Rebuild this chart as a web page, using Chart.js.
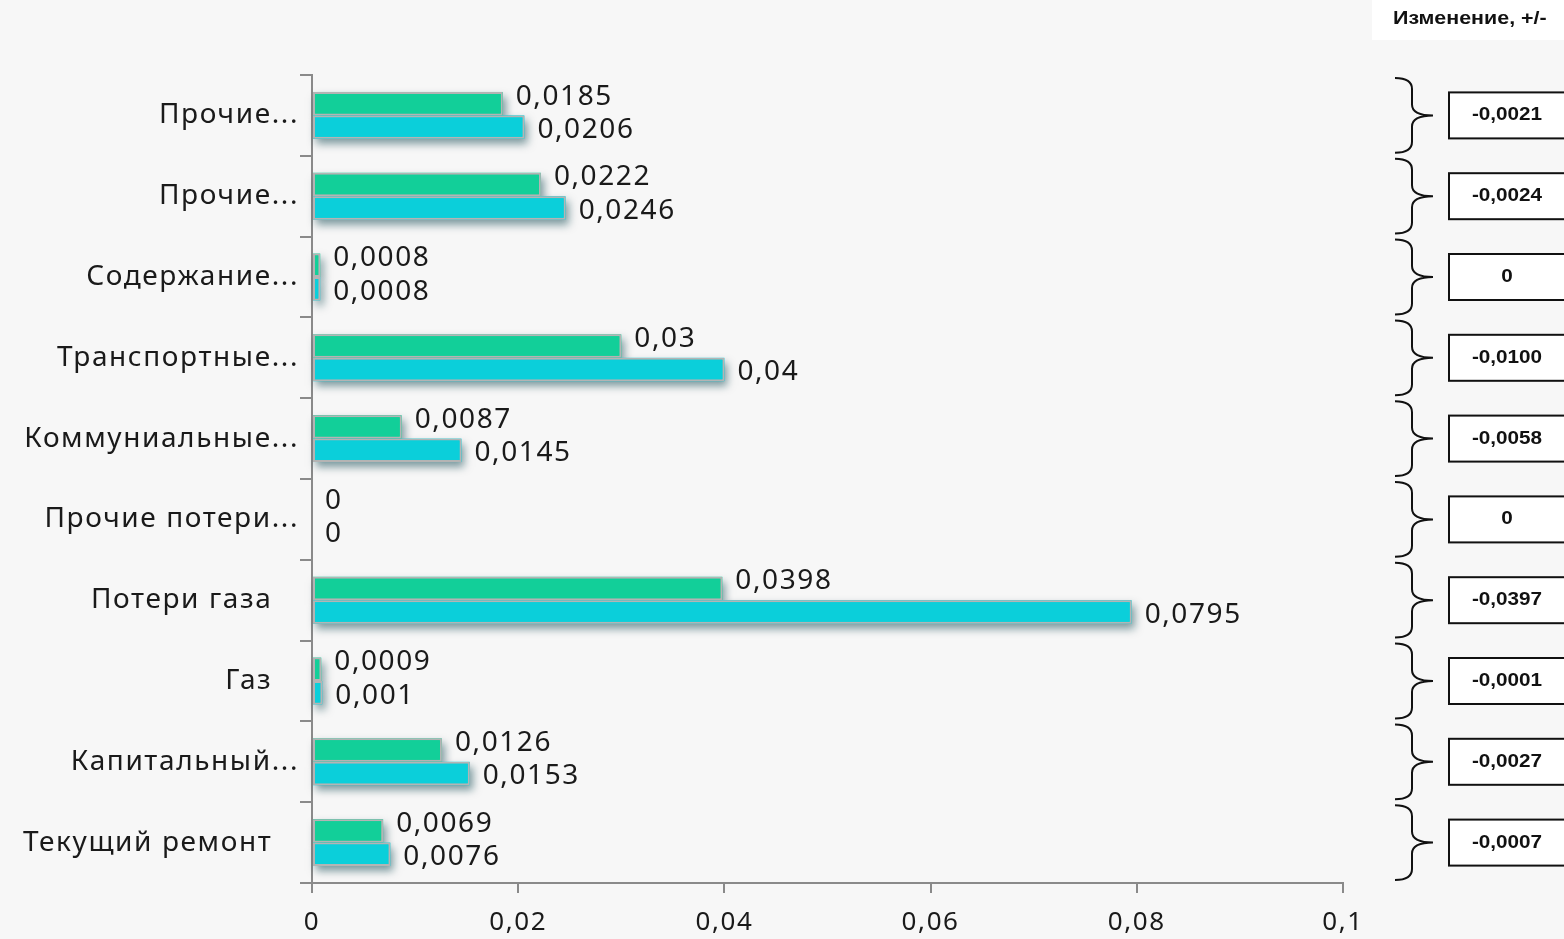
<!DOCTYPE html>
<html>
<head>
<meta charset="utf-8">
<script src="https://cdn.jsdelivr.net/npm/chart.js@4"></script>
<style>
  html, body { margin: 0; padding: 0; background: #f7f7f7; }
  #wrap { width: 1564px; height: 939px; position: relative; }
</style>
</head>
<body>
<div id="wrap"><canvas id="barChart"></canvas></div>
<script>
// categories, top to bottom
const categories = [
    'Прочие...',
    'Прочие...',
    'Содержание...',
    'Транспортные...',
    'Коммуниальные...',
    'Прочие потери...',
    'Потери газа',
    'Газ',
    'Капитальный...',
    'Текущий ремонт'
];

// green series (upper bar) and cyan series (lower bar)
const seriesGreen = [0.0185, 0.0222, 0.0008, 0.03, 0.0087, 0, 0.0398, 0.0009, 0.0126, 0.0069];
const seriesCyan  = [0.0206, 0.0246, 0.0008, 0.04, 0.0145, 0, 0.0795, 0.001, 0.0153, 0.0076];

// change column on the right
const changeHeader = 'Изменение, +/-';
const changeValues = ['-0,0021', '-0,0024', '0', '-0,0100', '-0,0058', '0', '-0,0397', '-0,0001', '-0,0027', '-0,0007'];

// x axis ticks
const xTicks = [0, 0.02, 0.04, 0.06, 0.08, 0.1];

const labelFont = 'Noto Sans';

function fmt(v) {
    return String(Math.round(v * 10000) / 10000).replace('.', ',');
}

// wider text like the original
const wideText = {
    id: 'wideText',
    beforeDraw(chart) {
        chart.ctx.letterSpacing = '1.6px';
    }
};

// value labels next to each bar
const valueLabels = {
    id: 'valueLabels',
    afterDatasetsDraw(chart) {
        const ctx = chart.ctx;
        ctx.save();
        ctx.font = '28px "' + labelFont + '"';
        ctx.fillStyle = '#1a1a1a';
        ctx.textAlign = 'left';
        ctx.textBaseline = 'middle';
        chart.data.datasets.forEach((ds, di) => {
            const meta = chart.getDatasetMeta(di);
            meta.data.forEach((bar, i) => {
                const dy = di === 0 ? -7 : 3;
                ctx.fillText(fmt(ds.data[i]), bar.x + 13, bar.y + dy);
            });
        });
        ctx.restore();
    }
};

// soft shadow under bars (Chart.js clips each bar, so the shadow is drawn first)
const barShadow = {
    id: 'barShadow',
    beforeDatasetsDraw(chart) {
        const ctx = chart.ctx;
        ctx.save();
        ctx.shadowColor = 'rgba(0, 60, 70, 0.5)';
        ctx.shadowBlur = 8;
        ctx.shadowOffsetX = 3;
        ctx.shadowOffsetY = 5;
        chart.data.datasets.forEach((ds, di) => {
            const meta = chart.getDatasetMeta(di);
            ctx.fillStyle = ds.backgroundColor;
            meta.data.forEach((bar) => {
                const p = bar.getProps(['x', 'y', 'base', 'height'], true);
                if (p.x - p.base < 1) return;
                ctx.fillRect(p.base, p.y - p.height / 2, p.x - p.base, p.height);
            });
        });
        ctx.restore();
    }
};

// text with a horizontal stretch, to match the original look
function drawStretched(ctx, txt, x, y, sx) {
    ctx.save();
    ctx.translate(x, y);
    ctx.scale(sx, 1);
    ctx.fillText(txt, 0, 0);
    ctx.restore();
}

// braces and boxes with change values
const changePanel = {
    id: 'changePanel',
    afterDraw(chart) {
        const ctx = chart.ctx;
        const y = chart.scales.y;
        const half = (y.getPixelForValue(1) - y.getPixelForValue(0)) / 2;

        ctx.save();
        ctx.letterSpacing = '0px';
        // header
        ctx.fillStyle = '#ffffff';
        ctx.fillRect(1372, 0, 192, 40);
        ctx.fillStyle = '#111';
        ctx.font = 'bold 18px "Liberation Sans"';
        ctx.textBaseline = 'middle';
        ctx.textAlign = 'left';
        drawStretched(ctx, changeHeader, 1393, 19, 1.19);

        const x0 = 1395, x1 = 1412, x2 = 1433, r = 11;
        changeValues.forEach((txt, i) => {
            const m = y.getPixelForValue(i);
            const t = m - half + 3;
            const b = m + half - 3;

            ctx.strokeStyle = '#111';
            ctx.lineWidth = 2;
            ctx.beginPath();
            ctx.moveTo(x0, t);
            ctx.quadraticCurveTo(x1, t, x1, t + r);
            ctx.lineTo(x1, m - r);
            ctx.quadraticCurveTo(x1, m, x2, m);
            ctx.moveTo(x2, m);
            ctx.quadraticCurveTo(x1, m, x1, m + r);
            ctx.lineTo(x1, b - r);
            ctx.quadraticCurveTo(x1, b, x0, b);
            ctx.stroke();

            ctx.fillStyle = '#ffffff';
            ctx.fillRect(1449, m - 23, 120, 46);
            ctx.strokeRect(1449, m - 23, 120, 46);

            ctx.fillStyle = '#111';
            ctx.textAlign = 'center';
            drawStretched(ctx, txt, 1507, m, 1.15);
        });
        ctx.restore();
    }
};

const ctx = document.getElementById('barChart').getContext('2d');

new Chart(ctx, {
    type: 'bar',
    data: {
        labels: categories,
        datasets: [
            {
                label: 'Green',
                data: seriesGreen,
                backgroundColor: '#12cf99',
                borderColor: '#b4b4b4',
                borderWidth: 2,
                borderSkipped: false
            },
            {
                label: 'Cyan',
                data: seriesCyan,
                backgroundColor: '#0bcfda',
                borderColor: '#b4b4b4',
                borderWidth: 2,
                borderSkipped: false
            }
        ]
    },
    options: {
        indexAxis: 'y',
        responsive: true,
        maintainAspectRatio: false,
        animation: false,
        categoryPercentage: 0.58,
        barPercentage: 1.0,
        layout: {
            padding: { top: 75, right: 221, left: 0, bottom: 0 }
        },
        scales: {
            x: {
                min: 0,
                max: 0.1,
                afterFit: (scale) => { scale.height = 56; },
                afterBuildTicks: (scale) => {
                    scale.ticks = xTicks.map(v => ({ value: v }));
                },
                grid: {
                    drawOnChartArea: false,
                    drawTicks: true,
                    tickLength: 10,
                    color: '#8a8a8a',
                    lineWidth: 2
                },
                border: { display: true, color: '#8a8a8a', width: 2 },
                ticks: {
                    padding: 14,
                    color: '#1a1a1a',
                    font: { family: labelFont, size: 26 },
                    maxRotation: 0,
                    callback: (v) => fmt(v)
                }
            },
            y: {
                afterFit: (scale) => { scale.width = 312; },
                grid: {
                    drawOnChartArea: false,
                    drawTicks: true,
                    tickLength: 12,
                    color: '#8a8a8a',
                    lineWidth: 2
                },
                border: { display: true, color: '#8a8a8a', width: 2 },
                ticks: {
                    padding: 1,
                    color: '#1a1a1a',
                    font: { family: labelFont, size: 28 },
                    autoSkip: false,
                    callback: function (v, i) {
                        const s = categories[i];
                        return s.endsWith('...') ? s : s + '   ';
                    }
                }
            }
        },
        plugins: {
            legend: { display: false },
            tooltip: { enabled: false }
        }
    },
    plugins: [wideText, barShadow, valueLabels, changePanel]
});
</script>
</body>
</html>
